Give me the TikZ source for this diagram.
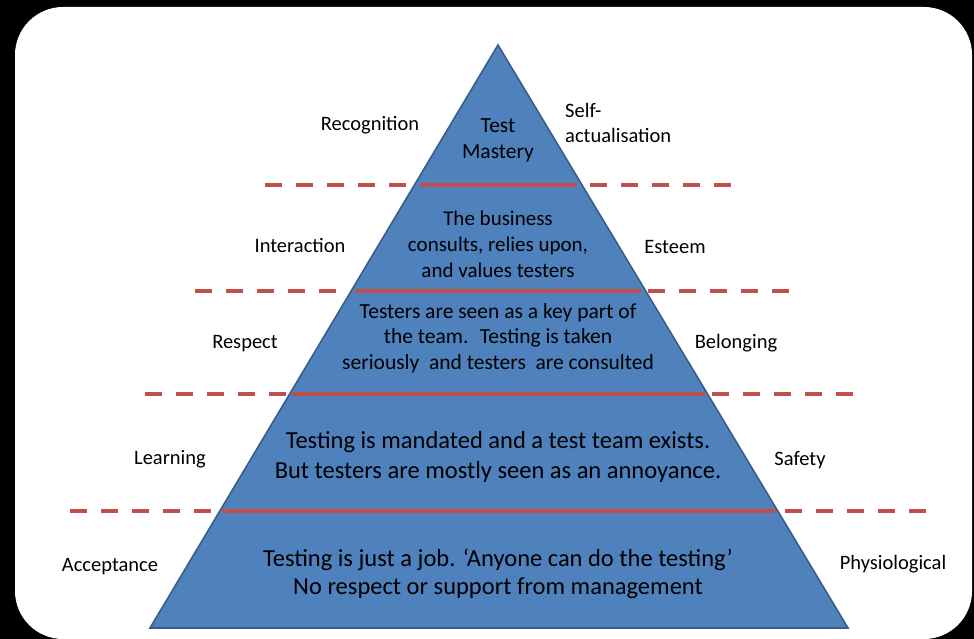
\documentclass[tikz,border=0pt]{standalone}
\usepackage{fontspec}
\setmainfont{Carlito}
\definecolor{pyblue}{RGB}{79,129,189}
\definecolor{pyborder}{RGB}{56,93,138}
\definecolor{sepred}{RGB}{192,80,77}
\begin{document}
\begin{tikzpicture}[x=1pt,y=-1pt,
  lbl/.style={font=\fontsize{20.5}{25}\selectfont, text=black, inner sep=0pt, anchor=base},
  tier/.style={align=center, text=black, inner sep=0pt},
  sepline/.style={draw=sepred, line width=4pt},
  dsep/.style={draw=sepred, line width=4pt, dash pattern=on 17pt off 14pt}]
\useasboundingbox (0,0) rectangle (974,639);
\fill[black] (0,0) rectangle (974,639);
\fill[white, rounded corners=48pt] (15,7) rectangle (972,639);

% pyramid
\coordinate (apex) at (498,45);
\coordinate (bl) at (150,628);
\coordinate (br) at (848,628);
\path[fill=pyblue, draw=pyborder, line width=1.6pt, line join=miter] (apex) -- (br) -- (bl) -- cycle;

% solid separators inside
\coordinate (s1a) at (420,185); \coordinate (s1b) at (577,185);
\coordinate (s2a) at (355,291); \coordinate (s2b) at (641,291);
\coordinate (s3a) at (292,394); \coordinate (s3b) at (705,394);
\coordinate (s4a) at (222,511); \coordinate (s4b) at (776,511);
\draw[sepline] (s1a) -- (s1b);
\draw[sepline] (s2a) -- (s2b);
\draw[sepline] (s3a) -- (s3b);
\draw[sepline] (s4a) -- (s4b);

% dashed separators outside
\coordinate (d1la) at (265,185); \coordinate (d1lb) at (410,185);
\coordinate (d1ra) at (590,185); \coordinate (d1rb) at (735,185);
\coordinate (d2la) at (195,291); \coordinate (d2lb) at (340,291);
\coordinate (d2ra) at (648,291); \coordinate (d2rb) at (793,291);
\coordinate (d3la) at (145,394); \coordinate (d3lb) at (290,394);
\coordinate (d3ra) at (712,394); \coordinate (d3rb) at (857,394);
\coordinate (d4la) at (70,511);  \coordinate (d4lb) at (215,511);
\coordinate (d4ra) at (785,511); \coordinate (d4rb) at (930,511);
\foreach \n in {1,2,3,4}{
  \draw[dsep] (d\n la) -- (d\n lb);
  \draw[dsep] (d\n ra) -- (d\n rb);
}

% tier texts
\node[tier, font=\fontsize{21.5}{26}\selectfont] (t1) at (498,140) {Test\\Mastery};
\node[tier, font=\fontsize{21}{26}\selectfont] (t2) at (498,244) {The business\\consults, relies upon,\\and values testers};
\node[tier, font=\fontsize{21.5}{25.5}\selectfont] (t3) at (498,338) {Testers are seen as a key part of\\the team.~ Testing is taken\\seriously~ and testers~ are consulted};
\node[tier, font=\fontsize{24.5}{30}\selectfont] (t4) at (498,457) {Testing is mandated and a test team exists.\\But testers are mostly seen as an annoyance.};
\node[tier, font=\fontsize{24.5}{28.5}\selectfont] (t5) at (498,574) {Testing is just a job. ‘Anyone can do the testing’\\No respect or support from management};

% side labels
\node[lbl] (recog) at (370,131) {Recognition};
\node[lbl, anchor=west, align=left] (selfact) at (565,123) {Self-\\actualisation};
\node[lbl] (inter) at (300,252) {Interaction};
\node[lbl] (esteem) at (675,253) {Esteem};
\node[lbl] (respect) at (245,348) {Respect};
\node[lbl] (belong) at (736,348) {Belonging};
\node[lbl] (learn) at (170,464) {Learning};
\node[lbl] (safety) at (800,465) {Safety};
\node[lbl] (accept) at (110,571) {Acceptance};
\node[lbl] (physio) at (893,569) {Physiological};
\end{tikzpicture}
\end{document}
